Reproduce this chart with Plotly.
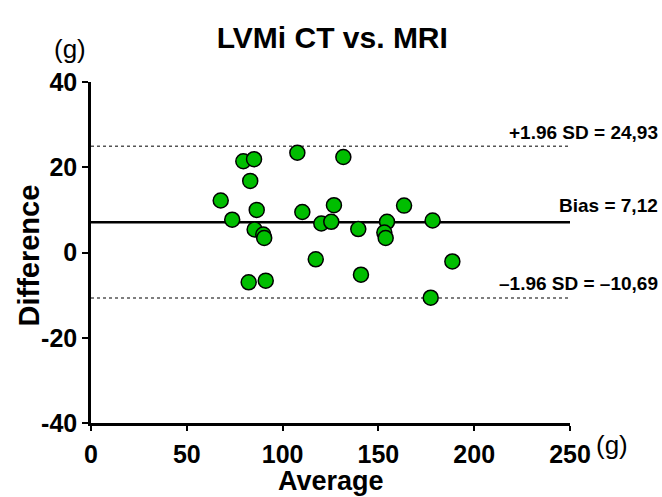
import plotly.graph_objects as go

# Data (Bland-Altman: average vs difference, grams)
avg = [79.5, 85.1, 83.1, 67.7, 86.5, 73.7, 85.4, 89.9, 90.4, 82.3, 91.2,
       107.7, 131.7, 110.3, 126.8, 120.2, 125.4, 139.5, 117.3, 140.9,
       163.4, 154.5, 153.1, 153.8, 178.3, 188.6, 177.3]
diff = [21.4, 21.9, 16.8, 12.2, 10.0, 7.7, 5.4, 4.2, 3.4, -7.0, -6.6,
        23.4, 22.4, 9.5, 11.1, 6.8, 7.2, 5.5, -1.6, -5.2,
        11.0, 7.2, 4.7, 3.4, 7.5, -2.1, -10.6]
bias = 7.12
upper_loa = 24.93
lower_loa = -10.69
x_range = [0, 250]
y_range = [-40, 40]
x_ticks = [0, 50, 100, 150, 200, 250]
y_ticks = [40, 20, 0, -20, -40]
y_ticktext = ["40", "20", "0", "-20", "-40"]

FONT = "Arial, Liberation Sans, sans-serif"

fig = go.Figure()

# limit lines
fig.add_trace(go.Scatter(x=x_range, y=[upper_loa, upper_loa], mode="lines",
                         line=dict(color="#555555", width=1.5, dash="dot"),
                         hoverinfo="skip", showlegend=False))
fig.add_trace(go.Scatter(x=x_range, y=[lower_loa, lower_loa], mode="lines",
                         line=dict(color="#555555", width=1.5, dash="dot"),
                         hoverinfo="skip", showlegend=False))
fig.add_trace(go.Scatter(x=x_range, y=[bias, bias], mode="lines",
                         line=dict(color="black", width=2.5),
                         hoverinfo="skip", showlegend=False))

fig.add_trace(go.Scatter(x=avg, y=diff, mode="markers",
                         marker=dict(size=15, color="#00BE00",
                                     line=dict(color="black", width=1.5)),
                         showlegend=False, cliponaxis=False))

fig.update_layout(
    width=662, height=497,
    margin=dict(l=91, r=92, t=82, b=74),
    paper_bgcolor="white", plot_bgcolor="white",
    font=dict(family=FONT, color="black"),
    title=dict(text="<b>LVMi CT vs. MRI</b>", x=0.502, xanchor="center",
               y=1 - 37 / 497, yanchor="middle",
               font=dict(size=30, family=FONT, color="black")),
    xaxis=dict(range=x_range, tickvals=x_ticks, showgrid=False, zeroline=False,
               showline=True, linecolor="black", linewidth=2.5,
               ticks="outside", ticklen=5, tickwidth=2, tickcolor="black",
               tickfont=dict(size=25, family=FONT, color="black", weight="bold"),
               ticklabelstandoff=2),
    yaxis=dict(range=y_range, tickvals=y_ticks, ticktext=y_ticktext,
               showgrid=False, zeroline=False,
               showline=True, linecolor="black", linewidth=2.5,
               ticks="outside", ticklen=6, tickwidth=2, tickcolor="black",
               tickfont=dict(size=25, family=FONT, color="black", weight="bold")),
)

# axis titles
fig.add_annotation(text="<b>Average</b>", xref="paper", yref="paper", x=0.5, y=0,
                   yshift=-58, xanchor="center", yanchor="middle", showarrow=False,
                   font=dict(size=27, family=FONT, color="black"))
fig.add_annotation(text="<b>Difference</b>", xref="paper", yref="paper", x=0, y=0.5,
                   xshift=-63, yshift=-3, xanchor="center", yanchor="middle",
                   textangle=-90, showarrow=False,
                   font=dict(size=29, family=FONT, color="black"))

ann_font = dict(size=19, family=FONT, color="black")
fig.add_annotation(text="<b>+1.96 SD = 24,93</b>", xref="paper", x=1, xshift=90,
                   xanchor="right", yref="y", y=upper_loa, yshift=14,
                   yanchor="middle", showarrow=False, font=ann_font)
fig.add_annotation(text="<b>Bias = 7,12</b>", xref="paper", x=1, xshift=90,
                   xanchor="right", yref="y", y=bias, yshift=17,
                   yanchor="middle", showarrow=False, font=ann_font)
fig.add_annotation(text="<b>\u20131.96 SD = \u201310,69</b>", xref="paper", x=1, xshift=90,
                   xanchor="right", yref="y", y=lower_loa, yshift=15,
                   yanchor="middle", showarrow=False, font=ann_font)
# unit labels
fig.add_annotation(text="(g)", xref="paper", yref="paper", x=0, xshift=-21,
                   y=1, yshift=33, xanchor="center", yanchor="middle",
                   showarrow=False, font=dict(size=26, family=FONT, color="black"))
fig.add_annotation(text="(g)", xref="paper", yref="paper", x=1, xshift=42,
                   y=0, yshift=-22, xanchor="center", yanchor="middle",
                   showarrow=False, font=dict(size=26, family=FONT, color="black"))

fig.write_html("out.html")
